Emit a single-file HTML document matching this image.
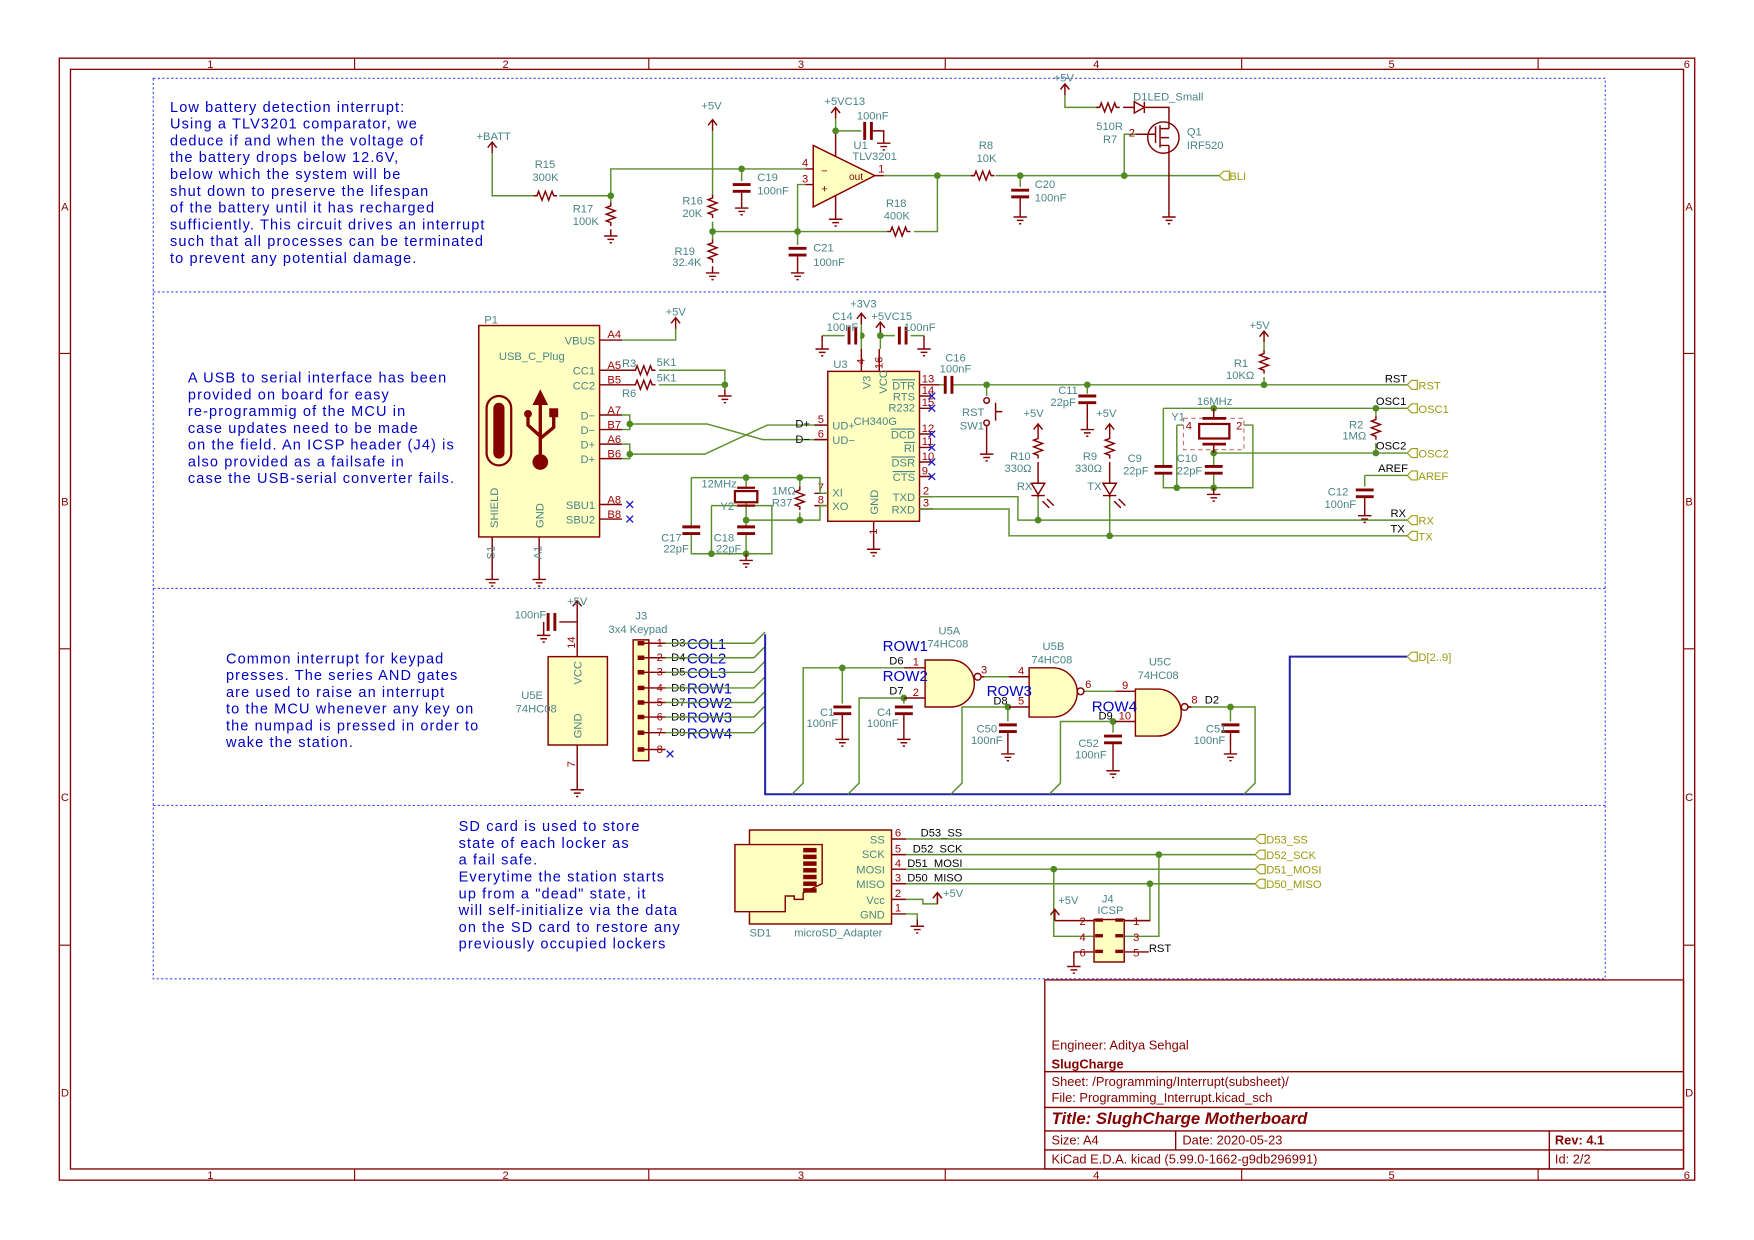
<!DOCTYPE html>
<html><head><meta charset="utf-8"><style>
html,body{margin:0;padding:0;background:#fff}
svg{display:block}
text{font-family:"Liberation Sans",sans-serif}
.w{stroke:#5b8f2c;stroke-width:1.3;fill:none}
.s{stroke:#840000;stroke-width:1.3;fill:none}
.b{stroke:#840000;stroke-width:1.3;fill:#ffffc2}
.t{fill:#4a8585;font-size:10px}
.p{fill:#a00000;font-size:10px}
.n{fill:#000;font-size:10px}
.h{fill:#9a9a10;font-size:10px}
.bl{fill:#0000c4;font-size:13px;letter-spacing:1px}
.big{fill:#0000c4;font-size:13.5px}
.fr{fill:#840000;font-size:10px}
.x{stroke:#2020c0;stroke-width:1.2}
</style></head><body>
<svg width="1754" height="1240" viewBox="0 0 1568 1108.5" xmlns="http://www.w3.org/2000/svg">
<defs>
<path id="rh" d="M-12,0 h3 l1.5,-4 l3,8 l3,-8 l3,8 l3,-8 l1.5,4 h3" class="s"/>
<path id="rv" d="M0,-12 v3 l-4,1.5 l8,3 l-8,3 l8,3 l-8,3 l4,1.5 v3" class="s"/>
<path id="gnd" d="M0,0 v6 M-6,6 h12 M-3,9 h6 M-1,12 h2" class="s"/>
<path id="arr" d="M0,0 v-10 M-4,-5 l4,-5 l4,5" class="s"/>
<path id="cv" d="M-8,-3 h16 M-8,3 h16" stroke="#840000" stroke-width="2.6" fill="none"/>
<path id="ch" d="M-3,-8 v16 M3,-8 v16" stroke="#840000" stroke-width="2.6" fill="none"/>
<circle id="j" r="3" fill="#4f8a22"/>
<path id="hl" d="M0,0 l4,-4 h5 v8 h-5 z" stroke="#9a9a10" stroke-width="1" fill="none"/>
<path id="xm" d="M-3,-3 l6,6 M3,-3 l-6,6" class="x"/>
</defs>

<rect x="53" y="52" width="1462" height="1003" fill="none" stroke="#840000" stroke-width="1.2"/>
<rect x="63" y="62" width="1442" height="983" fill="none" stroke="#840000" stroke-width="1.2"/>
<g stroke="#840000" stroke-width="1">
<path d="M317,52v10M580,52v10M845,52v10M1110,52v10M1375,52v10M317,1045v10M580,1045v10M845,1045v10M1110,1045v10M1375,1045v10M53,316h10M53,580h10M53,845h10M1505,316h10M1505,580h10M1505,845h10"/>
</g>
<g class="fr" text-anchor="middle">
<text x="188" y="61">1</text><text x="452" y="61">2</text><text x="716" y="61">3</text><text x="980" y="61">4</text><text x="1244" y="61">5</text><text x="1508" y="61">6</text>
<text x="188" y="1054">1</text><text x="452" y="1054">2</text><text x="716" y="1054">3</text><text x="980" y="1054">4</text><text x="1244" y="1054">5</text><text x="1508" y="1054">6</text>
<text x="58" y="188">A</text><text x="58" y="452">B</text><text x="58" y="716">C</text><text x="58" y="980">D</text>
<text x="1510" y="188">A</text><text x="1510" y="452">B</text><text x="1510" y="716">C</text><text x="1510" y="980">D</text>
</g>

<g stroke="#4848ff" stroke-width="1" stroke-dasharray="2,2" fill="none">
<rect x="137" y="70" width="1298" height="805"/>
<path d="M137,261H1435M137,526H1435M137,720H1435"/>
</g>

<g stroke="#840000" stroke-width="1.2" fill="none">
<rect x="934" y="876" width="571" height="169"/>
<path d="M934,958H1505M934,990H1505M934,1011H1505M934,1028H1505M1051,1011V1028M1385,1011V1045"/>
</g>
<g fill="#840000" font-size="11.5px">
<text x="940" y="938">Engineer: Aditya Sehgal</text>
<text x="940" y="955" font-weight="bold">SlugCharge</text>
<text x="940" y="971">Sheet: /Programming/Interrupt(subsheet)/</text>
<text x="940" y="985">File: Programming_Interrupt.kicad_sch</text>
<text x="940" y="1005" font-weight="bold" font-style="italic" font-size="15px">Title: SlughCharge Motherboard</text>
<text x="940" y="1023">Size: A4</text>
<text x="1057" y="1023">Date: 2020-05-23</text>
<text x="1390" y="1023" font-weight="bold">Rev: 4.1</text>
<text x="940" y="1040">KiCad E.D.A.  kicad (5.99.0-1662-g9db296991)</text>
<text x="1390" y="1040">Id: 2/2</text>
</g>

<g class="bl">
<text x="152" y="100">Low battery detection interrupt:</text>
<text x="152" y="115">Using a TLV3201 comparator, we</text>
<text x="152" y="130">deduce if and when the voltage of</text>
<text x="152" y="145">the battery drops below 12.6V,</text>
<text x="152" y="160">below which the system will be</text>
<text x="152" y="175">shut down to preserve the lifespan</text>
<text x="152" y="190">of the battery until it has recharged</text>
<text x="152" y="205">sufficiently. This circuit drives an interrupt</text>
<text x="152" y="220">such that all processes can be terminated</text>
<text x="152" y="235">to prevent any potential damage.</text>
</g>
<g class="w">
<path d="M440,137V175H478M500,175H546V151H720M546,175V181M637,117V174M637,198V214M637,207H793M817,207H838V157M713,207V165H720M663,151V162M713,207V219M790,157H870M890,157H1090M912,157V167M1005,157V120H1015M747,106V117H770M952,85V96H982M1045,96H1045"/>
</g>
<use href="#arr" x="440" y="137"/><text class="t" x="426" y="125">+BATT</text>
<use href="#rh" x="489" y="175"/><text class="t" x="478" y="150">R15</text><text class="t" x="476" y="162">300K</text>
<use href="#rv" x="546" y="193"/><use href="#gnd" x="546" y="205"/><text class="t" x="512" y="190">R17</text><text class="t" x="512" y="201">100K</text>
<use href="#j" x="546" y="175"/><use href="#j" x="663" y="151"/>
<use href="#arr" x="637" y="117"/><text class="t" x="627" y="98">+5V</text>
<use href="#rv" x="637" y="186"/><text class="t" x="610" y="183">R16</text><text class="t" x="610" y="194">20K</text>
<use href="#j" x="637" y="207"/>
<use href="#rv" x="637" y="226"/><use href="#gnd" x="637" y="238"/><text class="t" x="603" y="228">R19</text><text class="t" x="601" y="238">32.4K</text>
<use href="#cv" x="663" y="168"/><path class="s" d="M663,171V180"/><use href="#gnd" x="663" y="180"/><text class="t" x="677" y="162">C19</text><text class="t" x="677" y="174">100nF</text>
<use href="#j" x="713" y="207"/>
<use href="#cv" x="713" y="225"/><path class="s" d="M713,228V238"/><use href="#gnd" x="713" y="238"/><text class="t" x="727" y="225">C21</text><text class="t" x="727" y="238">100nF</text>
<use href="#rh" x="805" y="207"/><text class="t" x="792" y="185">R18</text><text class="t" x="790" y="196">400K</text>
<use href="#j" x="838" y="157"/>
<path class="b" d="M727,130V185L782,157Z"/>
<path class="s" d="M720,151H727M720,165H727M782,157H790M747,117V140M747,175V190"/>
<use href="#gnd" x="747" y="190"/>
<text x="734" y="156" fill="#840000" font-size="10">−</text><text x="734" y="172" fill="#840000" font-size="10">+</text>
<text x="759" y="161" fill="#840000" font-size="9">out</text>
<text class="p" x="717" y="149">4</text><text class="p" x="717" y="163">3</text><text class="p" x="785" y="154">1</text>
<use href="#arr" x="747" y="106"/><text class="t" x="737" y="94">+5VC13</text><use href="#j" x="747" y="117"/>
<use href="#ch" x="776" y="117"/><path class="s" d="M779,117H790V122"/><use href="#gnd" x="790" y="122"/><text class="t" x="766" y="107">100nF</text>
<text class="t" x="763" y="133">U1</text><text class="t" x="762" y="143">TLV3201</text>
<use href="#rh" x="880" y="157"/><text class="t" x="875" y="133">R8</text><text class="t" x="873" y="145">10K</text>
<use href="#j" x="912" y="157"/><use href="#cv" x="912" y="173"/><path class="s" d="M912,176V188"/><use href="#gnd" x="912" y="188"/><text class="t" x="925" y="168">C20</text><text class="t" x="925" y="180">100nF</text>
<use href="#j" x="1005" y="157"/>
<use href="#hl" x="1090" y="157"/><text class="h" x="1099" y="161">BLI</text>
<use href="#arr" x="952" y="85"/><text class="t" x="942" y="73">+5V</text>
<use href="#rh" x="992" y="96"/><text class="t" x="980" y="116">510R</text><text class="t" x="986" y="128">R7</text>
<path class="s" d="M1004,96H1014M1014,91V101L1023,96Z M1023,91V101M1023,96H1045V108"/>
<text class="t" x="1013" y="90">D1LED_Small</text>
<circle cx="1040" cy="123" r="14" class="s"/>
<path class="s" d="M1015,120H1033M1033,113V128M1037,112V132M1037,115H1045M1037,123H1045M1037,130H1045M1045,108V115M1045,130V188"/>
<text class="p" x="1009" y="122">2</text>
<use href="#gnd" x="1045" y="188"/>
<text class="t" x="1061" y="121">Q1</text><text class="t" x="1061" y="133">IRF520</text>

<g class="bl">
<text x="168" y="342">A USB to serial interface has been</text>
<text x="168" y="357">provided on board for easy</text>
<text x="168" y="372">re-programmig  of the MCU in</text>
<text x="168" y="387">case updates need to be made</text>
<text x="168" y="402">on the field. An ICSP header (J4) is</text>
<text x="168" y="417">also provided as a failsafe in</text>
<text x="168" y="432">case the USB-serial converter fails.</text>
</g>
<rect x="428" y="291" width="108" height="189" class="b"/>
<text class="t" x="433" y="289">P1</text><text class="t" x="446" y="322">USB_C_Plug</text>
<rect x="435" y="354" width="22" height="62" rx="11" stroke="#840000" stroke-width="2" fill="none"/>
<rect x="441" y="360" width="10" height="50" rx="5" fill="#840000"/>
<path d="M483,348l-7,14h14z" fill="#840000"/><path d="M483,360V408M483,390l-11,-10V370M483,392l12,-10V370" stroke="#840000" stroke-width="3" fill="none"/>
<circle cx="472" cy="370" r="3.5" fill="#840000"/><rect x="491" y="365" width="8" height="8" fill="#840000"/><circle cx="483" cy="413" r="7" fill="#840000"/>
<g class="t" text-anchor="end">
<text x="532" y="308">VBUS</text><text x="532" y="335">CC1</text><text x="532" y="348">CC2</text>
<text x="532" y="375">D−</text><text x="532" y="388">D−</text><text x="532" y="401">D+</text><text x="532" y="414">D+</text>
<text x="532" y="455">SBU1</text><text x="532" y="468">SBU2</text>
</g>
<text class="t" transform="translate(445,472) rotate(-90)">SHIELD</text>
<text class="t" transform="translate(486,472) rotate(-90)">GND</text>
<path class="s" d="M536,304H556M536,331H565M536,344H565M536,371H556M536,384H556M536,397H556M536,410H556M536,451H556M536,464H556M440,480V512M482,480V512"/>
<g class="p"><text x="543" y="302">A4</text><text x="543" y="330">A5</text><text x="543" y="343">B5</text><text x="543" y="370">A7</text><text x="543" y="383">B7</text><text x="543" y="396">A6</text><text x="543" y="409">B6</text><text x="543" y="450">A8</text><text x="543" y="463">B8</text></g>
<text class="t" transform="translate(442,500) rotate(-90)">S1</text><text class="t" transform="translate(484,500) rotate(-90)">A1</text>
<use href="#gnd" x="440" y="512"/><use href="#gnd" x="482" y="512"/>
<use href="#xm" x="563" y="451"/><use href="#xm" x="563" y="464"/>
<path class="w" d="M556,304H604V294M589,331H648V344M589,344H648V348M556,371H563V384H556M563,379H632L682,393H740M556,397H563V410H556M563,406H630L686,380H740"/>
<use href="#arr" x="604" y="294"/><text class="t" x="595" y="282">+5V</text>
<use href="#rh" x="577" y="331"/><use href="#rh" x="577" y="344"/><use href="#gnd" x="648" y="348"/><use href="#j" x="648" y="344"/>
<text class="t" x="556" y="328">R3</text><text class="t" x="587" y="327">5K1</text><text class="t" x="587" y="341">5K1</text><text class="t" x="556" y="355">R6</text>
<use href="#j" x="563" y="379"/><use href="#j" x="563" y="406"/>
<text class="n" x="711" y="382">D+</text><text class="n" x="711" y="396">D−</text>

<rect x="740" y="332" width="82" height="134" class="b"/>
<text class="t" x="745" y="329">U3</text><text class="t" x="763" y="380">CH340G</text>
<g class="t"><text x="744" y="384">UD+</text><text x="744" y="397">UD−</text><text x="744" y="444">XI</text><text x="744" y="456">XO</text></g>
<g class="t" text-anchor="end">
<text x="818" y="348" text-decoration="overline">DTR</text><text x="818" y="358">RTS</text><text x="818" y="368">R232</text>
<text x="818" y="392" text-decoration="overline">DCD</text><text x="818" y="404" text-decoration="overline">RI</text><text x="818" y="417" text-decoration="overline">DSR</text><text x="818" y="430" text-decoration="overline">CTS</text>
<text x="818" y="448">TXD</text><text x="818" y="459">RXD</text></g>
<text class="t" transform="translate(778,348) rotate(-90)">V3</text><text class="t" transform="translate(793,352) rotate(-90)">VCC</text>
<text class="t" transform="translate(785,460) rotate(-90)">GND</text>
<path class="s" d="M728,380H740M728,393H740M728,441H740M728,452H740M770,312V332M786,312V332M822,344H840M822,354H833M822,365H833M822,388H833M822,400H833M822,413H833M822,426H833M822,444H834M822,455H834M781,466V485"/>
<g class="p"><text x="731" y="378">5</text><text x="731" y="391">6</text><text x="731" y="439">7</text><text x="731" y="450">8</text>
<text x="824" y="342">13</text><text x="824" y="352">14</text><text x="824" y="363">15</text><text x="824" y="386">12</text><text x="824" y="398">11</text><text x="824" y="411">10</text><text x="824" y="424">9</text><text x="825" y="442">2</text><text x="825" y="453">3</text>
<text transform="translate(773,326) rotate(-90)">4</text><text transform="translate(789,330) rotate(-90)">16</text><text transform="translate(784,478) rotate(-90)">1</text></g>
<use href="#xm" x="833" y="354"/><use href="#xm" x="833" y="365"/><use href="#xm" x="833" y="388"/><use href="#xm" x="833" y="400"/><use href="#xm" x="833" y="413"/><use href="#xm" x="833" y="426"/>
<use href="#gnd" x="781" y="485"/>
<path class="w" d="M770,290V312M787,296V312M735,300H770M787,300H826"/>
<use href="#arr" x="770" y="290"/><text class="t" x="760" y="275">+3V3</text>
<use href="#arr" x="787" y="298"/><text class="t" x="779" y="286">+5VC15</text>
<use href="#j" x="770" y="300"/><use href="#j" x="787" y="300"/>
<rect x="755" y="292" width="14" height="16" fill="#fff"/><use href="#ch" x="762" y="300"/>
<rect x="800" y="292" width="14" height="16" fill="#fff"/><use href="#ch" x="807" y="300"/>
<path class="s" d="M735,300V306M826,300V306"/><use href="#gnd" x="735" y="306"/><use href="#gnd" x="826" y="306"/>
<text class="t" x="744" y="286">C14</text><text class="t" x="739" y="296">100nF</text><text class="t" x="808" y="296">100nF</text>

<path class="w" d="M840,344H845M852,344H1258M882,344V354M972,344V352M1130,344V337M1130,313V306M822,444H910V465H1258M822,455H902V479H1258M928,445V465M992,445V479"/>
<use href="#ch" x="848" y="344"/><text class="t" x="845" y="323">C16</text><text class="t" x="840" y="333">100nF</text>
<use href="#j" x="882" y="344"/><use href="#j" x="972" y="344"/><use href="#j" x="1130" y="344"/>
<circle cx="882" cy="358" r="2.5" class="s"/><circle cx="882" cy="378" r="2.5" class="s"/><path class="s" d="M890,360V376M890,368H896M882,381V400"/><use href="#gnd" x="882" y="400"/>
<text class="t" x="860" y="372">RST</text><text class="t" x="858" y="384">SW1</text>
<use href="#cv" x="972" y="357"/><path class="s" d="M972,360V378"/><use href="#gnd" x="972" y="378"/><text class="t" x="946" y="352">C11</text><text class="t" x="939" y="363">22pF</text>
<use href="#rv" x="1130" y="325"/><use href="#arr" x="1130" y="306"/><text class="t" x="1117" y="294">+5V</text><text class="t" x="1103" y="328">R1</text><text class="t" x="1096" y="339">10KΩ</text>
<use href="#arr" x="928" y="389"/><text class="t" x="915" y="373">+5V</text><use href="#rv" x="928" y="401"/><text class="t" x="903" y="411">R10</text><text class="t" x="898" y="422">330Ω</text>
<path class="s" d="M928,413V432M922,432H934L928,442Z M922,443H934M928,443V445M932,448l6,6M936,446l6,6"/>
<text class="t" x="909" y="438">RX</text>
<use href="#arr" x="992" y="389"/><text class="t" x="980" y="373">+5V</text><use href="#rv" x="992" y="401"/><text class="t" x="968" y="411">R9</text><text class="t" x="961" y="422">330Ω</text>
<path class="s" d="M992,413V432M986,432H998L992,442Z M986,443H998M992,443V445M996,448l6,6M1000,446l6,6"/>
<text class="t" x="972" y="438">TX</text>
<use href="#j" x="928" y="465"/><use href="#j" x="992" y="479"/>

<path class="w" d="M1040,365H1258M1040,365V417M1040,423V436H1120V380H1112M1052,380H1058M1052,380V436M1085,405H1258M1085,405V417M1085,423V436M1230,365V372M1230,396V405M1220,425H1258M1220,425V435"/>
<use href="#cv" x="1040" y="420"/><use href="#cv" x="1085" y="420"/>
<use href="#j" x="1085" y="365"/><use href="#j" x="1085" y="405"/><use href="#j" x="1052" y="436"/><use href="#j" x="1085" y="436"/><use href="#j" x="1230" y="365"/><use href="#j" x="1230" y="405"/>
<use href="#gnd" x="1085" y="436"/>
<rect x="1058" y="374" width="54" height="28" fill="none" stroke="#c87070" stroke-dasharray="4,3"/>
<rect x="1072" y="379" width="27" height="13" fill="none" stroke="#840000" stroke-width="2"/>
<path d="M1075,374H1096M1075,397H1096" stroke="#840000" stroke-width="2.5"/>
<path class="s" d="M1085,365V374M1085,397V405"/>
<text class="t" x="1047" y="376">Y1</text><text class="t" x="1070" y="362">16MHz</text><text class="p" x="1060" y="384">4</text><text class="p" x="1105" y="384">2</text>
<text class="t" x="1008" y="413">C9</text><text class="t" x="1004" y="424">22pF</text><text class="t" x="1052" y="413">C10</text><text class="t" x="1052" y="424">22pF</text>
<use href="#rv" x="1230" y="384"/><text class="t" x="1206" y="383">R2</text><text class="t" x="1200" y="393">1MΩ</text>
<use href="#cv" x="1220" y="441"/><path class="s" d="M1220,444V455"/><use href="#gnd" x="1220" y="455"/><text class="t" x="1187" y="443">C12</text><text class="t" x="1184" y="454">100nF</text>
<g class="n"><text x="1238" y="342">RST</text><text x="1230" y="362">OSC1</text><text x="1230" y="402">OSC2</text><text x="1232" y="422">AREF</text><text x="1243" y="462">RX</text><text x="1243" y="476">TX</text></g>
<use href="#hl" x="1258" y="344"/><use href="#hl" x="1258" y="365"/><use href="#hl" x="1258" y="405"/><use href="#hl" x="1258" y="425"/><use href="#hl" x="1258" y="465"/><use href="#hl" x="1258" y="479"/>
<g class="h"><text x="1268" y="348">RST</text><text x="1268" y="369">OSC1</text><text x="1268" y="409">OSC2</text><text x="1268" y="429">AREF</text><text x="1268" y="469">RX</text><text x="1268" y="483">TX</text></g>

<path class="w" d="M618,427H733V441H740M618,427V471M618,477V495H690V452H636M636,452V495M667,427V437M667,450V465M667,465H733V452H740M667,465V471M667,477V495M715,427V436M715,458V465"/>
<use href="#cv" x="618" y="474"/><use href="#cv" x="667" y="474"/>
<use href="#j" x="667" y="427"/><use href="#j" x="715" y="427"/><use href="#j" x="667" y="465"/><use href="#j" x="715" y="465"/><use href="#j" x="636" y="495"/><use href="#j" x="667" y="495"/>
<use href="#gnd" x="667" y="495"/>
<rect x="657" y="439" width="20" height="10" fill="none" stroke="#840000" stroke-width="2"/>
<path d="M659,436H675M659,452H675" stroke="#840000" stroke-width="2"/>
<use href="#rv" x="715" y="447"/>
<text class="t" x="627" y="436">12MHz</text><text class="t" x="644" y="456">Y2</text><text class="t" x="690" y="442">1MΩ</text><text class="t" x="690" y="453">R37</text>
<text class="t" x="591" y="484">C17</text><text class="t" x="593" y="494">22pF</text><text class="t" x="638" y="484">C18</text><text class="t" x="640" y="494">22pF</text>

<g class="bl">
<text x="202" y="593">Common interrupt for keypad</text>
<text x="202" y="608">presses. The series AND gates</text>
<text x="202" y="623">are used to raise an interrupt</text>
<text x="202" y="638">to the MCU whenever any key on</text>
<text x="202" y="653">the numpad is pressed in order to</text>
<text x="202" y="668">wake the station.</text>
</g>
<rect x="490" y="587" width="53" height="79" class="b"/>
<text class="t" transform="translate(520,612) rotate(-90)">VCC</text><text class="t" transform="translate(520,660) rotate(-90)">GND</text>
<text class="t" x="466" y="625">U5E</text><text class="t" x="461" y="637">74HC08</text>
<path class="s" d="M516,547V587M516,666V700M516,556H500M486,556V562"/>
<use href="#ch" x="493" y="556"/><use href="#gnd" x="486" y="562"/><use href="#gnd" x="516" y="700"/>
<use href="#arr" x="516" y="547"/><text class="t" x="507" y="541">+5V</text><text class="t" x="460" y="553">100nF</text>
<text class="p" transform="translate(514,580) rotate(-90)">14</text><text class="p" transform="translate(514,686) rotate(-90)">7</text>
<rect x="566" y="572" width="14" height="108" class="b"/>
<text class="t" x="568" y="554">J3</text><text class="t" x="544" y="566">3x4 Keypad</text>
<g class="s"><path d="M571,575H595M571,588H595M571,601H595M571,615H595M571,628H595M571,641H595M571,655H595M571,670H595"/></g>
<g fill="#840000"><rect x="570" y="573" width="6" height="4"/><rect x="570" y="586" width="6" height="4"/><rect x="570" y="599" width="6" height="4"/><rect x="570" y="613" width="6" height="4"/><rect x="570" y="626" width="6" height="4"/><rect x="570" y="639" width="6" height="4"/><rect x="570" y="653" width="6" height="4"/><rect x="570" y="668" width="6" height="4"/></g>
<g class="p"><text x="587" y="578">1</text><text x="587" y="591">2</text><text x="587" y="604">3</text><text x="587" y="618">4</text><text x="587" y="631">5</text><text x="587" y="644">6</text><text x="587" y="658">7</text><text x="587" y="673">8</text></g>
<use href="#xm" x="599" y="674"/>
<g class="n"><text x="600" y="578">D3</text><text x="600" y="591">D4</text><text x="600" y="604">D5</text><text x="600" y="618">D6</text><text x="600" y="631">D7</text><text x="600" y="644">D8</text><text x="600" y="658">D9</text></g>
<g class="big"><text x="614" y="580">COL1</text><text x="614" y="593">COL2</text><text x="614" y="606">COL3</text><text x="614" y="620">ROW1</text><text x="614" y="633">ROW2</text><text x="614" y="646">ROW3</text><text x="614" y="660">ROW4</text></g>
<path class="w" d="M595,575H674L684,565M595,588H674L684,578M595,601H674L684,591M595,615H674L684,605M595,628H674L684,618M595,641H674L684,631M595,655H674L684,645"/>
<path d="M684,567V710H1153V587H1258" stroke="#2222aa" stroke-width="1.8" fill="none"/>
<use href="#hl" x="1258" y="587"/><text class="h" x="1268" y="591">D[2..9]</text>
<path class="w" d="M708,710L718,700V597H808M758,710L768,700V624H808M850,710L860,700V632H902M938,710L948,700V645H997M1112,710L1122,700V632H1062M753,597V629M808,624V629M901,632V645M995,645V655M1100,632V645M880,605H902M970,618H997"/>
<use href="#j" x="753" y="597"/><use href="#j" x="808" y="624"/><use href="#j" x="901" y="632"/><use href="#j" x="995" y="645"/><use href="#j" x="1100" y="632"/>
<use href="#cv" x="753" y="635"/><path class="s" d="M753,638V655"/><use href="#gnd" x="753" y="655"/><text class="t" x="733" y="640">C1</text><text class="t" x="721" y="650">100nF</text>
<use href="#cv" x="808" y="635"/><path class="s" d="M808,638V655"/><use href="#gnd" x="808" y="655"/><text class="t" x="784" y="640">C4</text><text class="t" x="775" y="650">100nF</text>
<use href="#cv" x="901" y="651"/><path class="s" d="M901,654V668"/><use href="#gnd" x="901" y="668"/><text class="t" x="873" y="655">C50</text><text class="t" x="868" y="665">100nF</text>
<use href="#cv" x="995" y="661"/><path class="s" d="M995,664V683"/><use href="#gnd" x="995" y="683"/><text class="t" x="964" y="668">C52</text><text class="t" x="961" y="678">100nF</text>
<use href="#cv" x="1100" y="651"/><path class="s" d="M1100,654V668"/><use href="#gnd" x="1100" y="668"/><text class="t" x="1078" y="655">C51</text><text class="t" x="1067" y="665">100nF</text>
<path class="b" d="M827,590H850A21,21 0 0 1 850,632H827Z"/><circle cx="874" cy="605" r="3" class="s" fill="#fff"/>
<path class="s" d="M808,597H827M808,624H827M877,605H880"/>
<path class="b" d="M920,597H941A22,22 0 0 1 941,641H920Z"/><circle cx="966" cy="618" r="3" class="s" fill="#fff"/>
<path class="s" d="M902,605H920M902,632H920M969,618H970"/>
<path class="b" d="M1015,616H1035A21,21 0 0 1 1035,658H1015Z"/><circle cx="1059" cy="632" r="3" class="s" fill="#fff"/>
<path class="s" d="M997,618H1015M997,645H1015M1062,632H1065"/>
<g class="p"><text x="816" y="595">1</text><text x="816" y="622">2</text><text x="877" y="602">3</text><text x="910" y="603">4</text><text x="910" y="630">5</text><text x="970" y="615">6</text><text x="1003" y="616">9</text><text x="1000" y="643">10</text><text x="1065" y="629">8</text></g>
<g class="n"><text x="795" y="594">D6</text><text x="795" y="621">D7</text><text x="888" y="630">D8</text><text x="982" y="643">D9</text><text x="1077" y="629">D2</text></g>
<g class="big"><text x="789" y="582">ROW1</text><text x="789" y="609">ROW2</text><text x="882" y="622">ROW3</text><text x="976" y="636">ROW4</text></g>
<text class="t" x="839" y="567">U5A</text><text class="t" x="829" y="579">74HC08</text>
<text class="t" x="932" y="581">U5B</text><text class="t" x="922" y="593">74HC08</text>
<text class="t" x="1027" y="595">U5C</text><text class="t" x="1017" y="607">74HC08</text>

<g class="bl">
<text x="410" y="743">SD card is used to store</text>
<text x="410" y="758">state of each locker as</text>
<text x="410" y="773">a fail safe.</text>
<text x="410" y="788">Everytime the station starts</text>
<text x="410" y="803">up from a "dead" state, it</text>
<text x="410" y="818">will self-initialize via the data</text>
<text x="410" y="833">on the SD card to restore any</text>
<text x="410" y="848">previously occupied lockers</text>
</g>
<rect x="670" y="742" width="127" height="84" class="b"/>
<path class="b" d="M657,755H735V790L718,798V804H710V801H702V815H657Z"/>
<g fill="#840000"><rect x="718" y="758" width="12" height="4"/><rect x="718" y="764" width="12" height="4"/><rect x="718" y="770" width="12" height="4"/><rect x="718" y="776" width="12" height="4"/><rect x="718" y="782" width="12" height="4"/><rect x="718" y="788" width="12" height="4"/><rect x="718" y="794" width="12" height="4"/></g>
<g class="t" text-anchor="end"><text x="791" y="754">SS</text><text x="791" y="767">SCK</text><text x="791" y="781">MOSI</text><text x="791" y="794">MISO</text><text x="791" y="808">Vcc</text><text x="791" y="821">GND</text></g>
<text class="t" x="670" y="837">SD1</text><text class="t" x="710" y="837">microSD_Adapter</text>
<path class="s" d="M797,750H810M797,764H810M797,777H810M797,790H810M797,804H810M797,817H810"/>
<g class="p"><text x="800" y="748">6</text><text x="800" y="762">5</text><text x="800" y="775">4</text><text x="800" y="788">3</text><text x="800" y="802">2</text><text x="800" y="815">1</text></g>
<g class="n"><text x="823" y="748">D53_SS</text><text x="816" y="762">D52_SCK</text><text x="811" y="775">D51_MOSI</text><text x="811" y="788">D50_MISO</text></g>
<path class="w" d="M810,750H1122M810,764H1122M810,777H1122M810,790H1122M810,804H825V808H838V800M810,817H820V822M942,777V837H978M1028,790V823H1005M1036,764V837H1005"/>
<use href="#arr" x="838" y="808"/><text class="t" x="843" y="802">+5V</text><use href="#gnd" x="820" y="822"/>
<use href="#j" x="1036" y="764"/><use href="#j" x="942" y="777"/><use href="#j" x="1028" y="790"/>
<use href="#hl" x="1122" y="750"/><use href="#hl" x="1122" y="764"/><use href="#hl" x="1122" y="777"/><use href="#hl" x="1122" y="790"/>
<g class="h"><text x="1132" y="754">D53_SS</text><text x="1132" y="768">D52_SCK</text><text x="1132" y="781">D51_MOSI</text><text x="1132" y="794">D50_MISO</text></g>
<rect x="978" y="822" width="27" height="38" class="b"/>
<g fill="#840000"><rect x="979" y="821" width="7" height="3"/><rect x="979" y="835" width="7" height="3"/><rect x="979" y="849" width="7" height="3"/><rect x="997" y="821" width="7" height="3"/><rect x="997" y="835" width="7" height="3"/><rect x="997" y="849" width="7" height="3"/></g>
<path class="s" d="M943,823H978M960,851H978M960,851V858M1005,823H1028M1005,851H1027"/>
<use href="#arr" x="943" y="823"/><use href="#gnd" x="960" y="858"/>
<text class="t" x="946" y="808">+5V</text><text class="t" x="985" y="807">J4</text><text class="t" x="981" y="817">ICSP</text>
<g class="p"><text x="965" y="827">2</text><text x="965" y="841">4</text><text x="965" y="855">6</text><text x="1013" y="827">1</text><text x="1013" y="841">3</text><text x="1013" y="855">5</text></g>
<text class="n" x="1027" y="851">RST</text>
</svg>
</body></html>
